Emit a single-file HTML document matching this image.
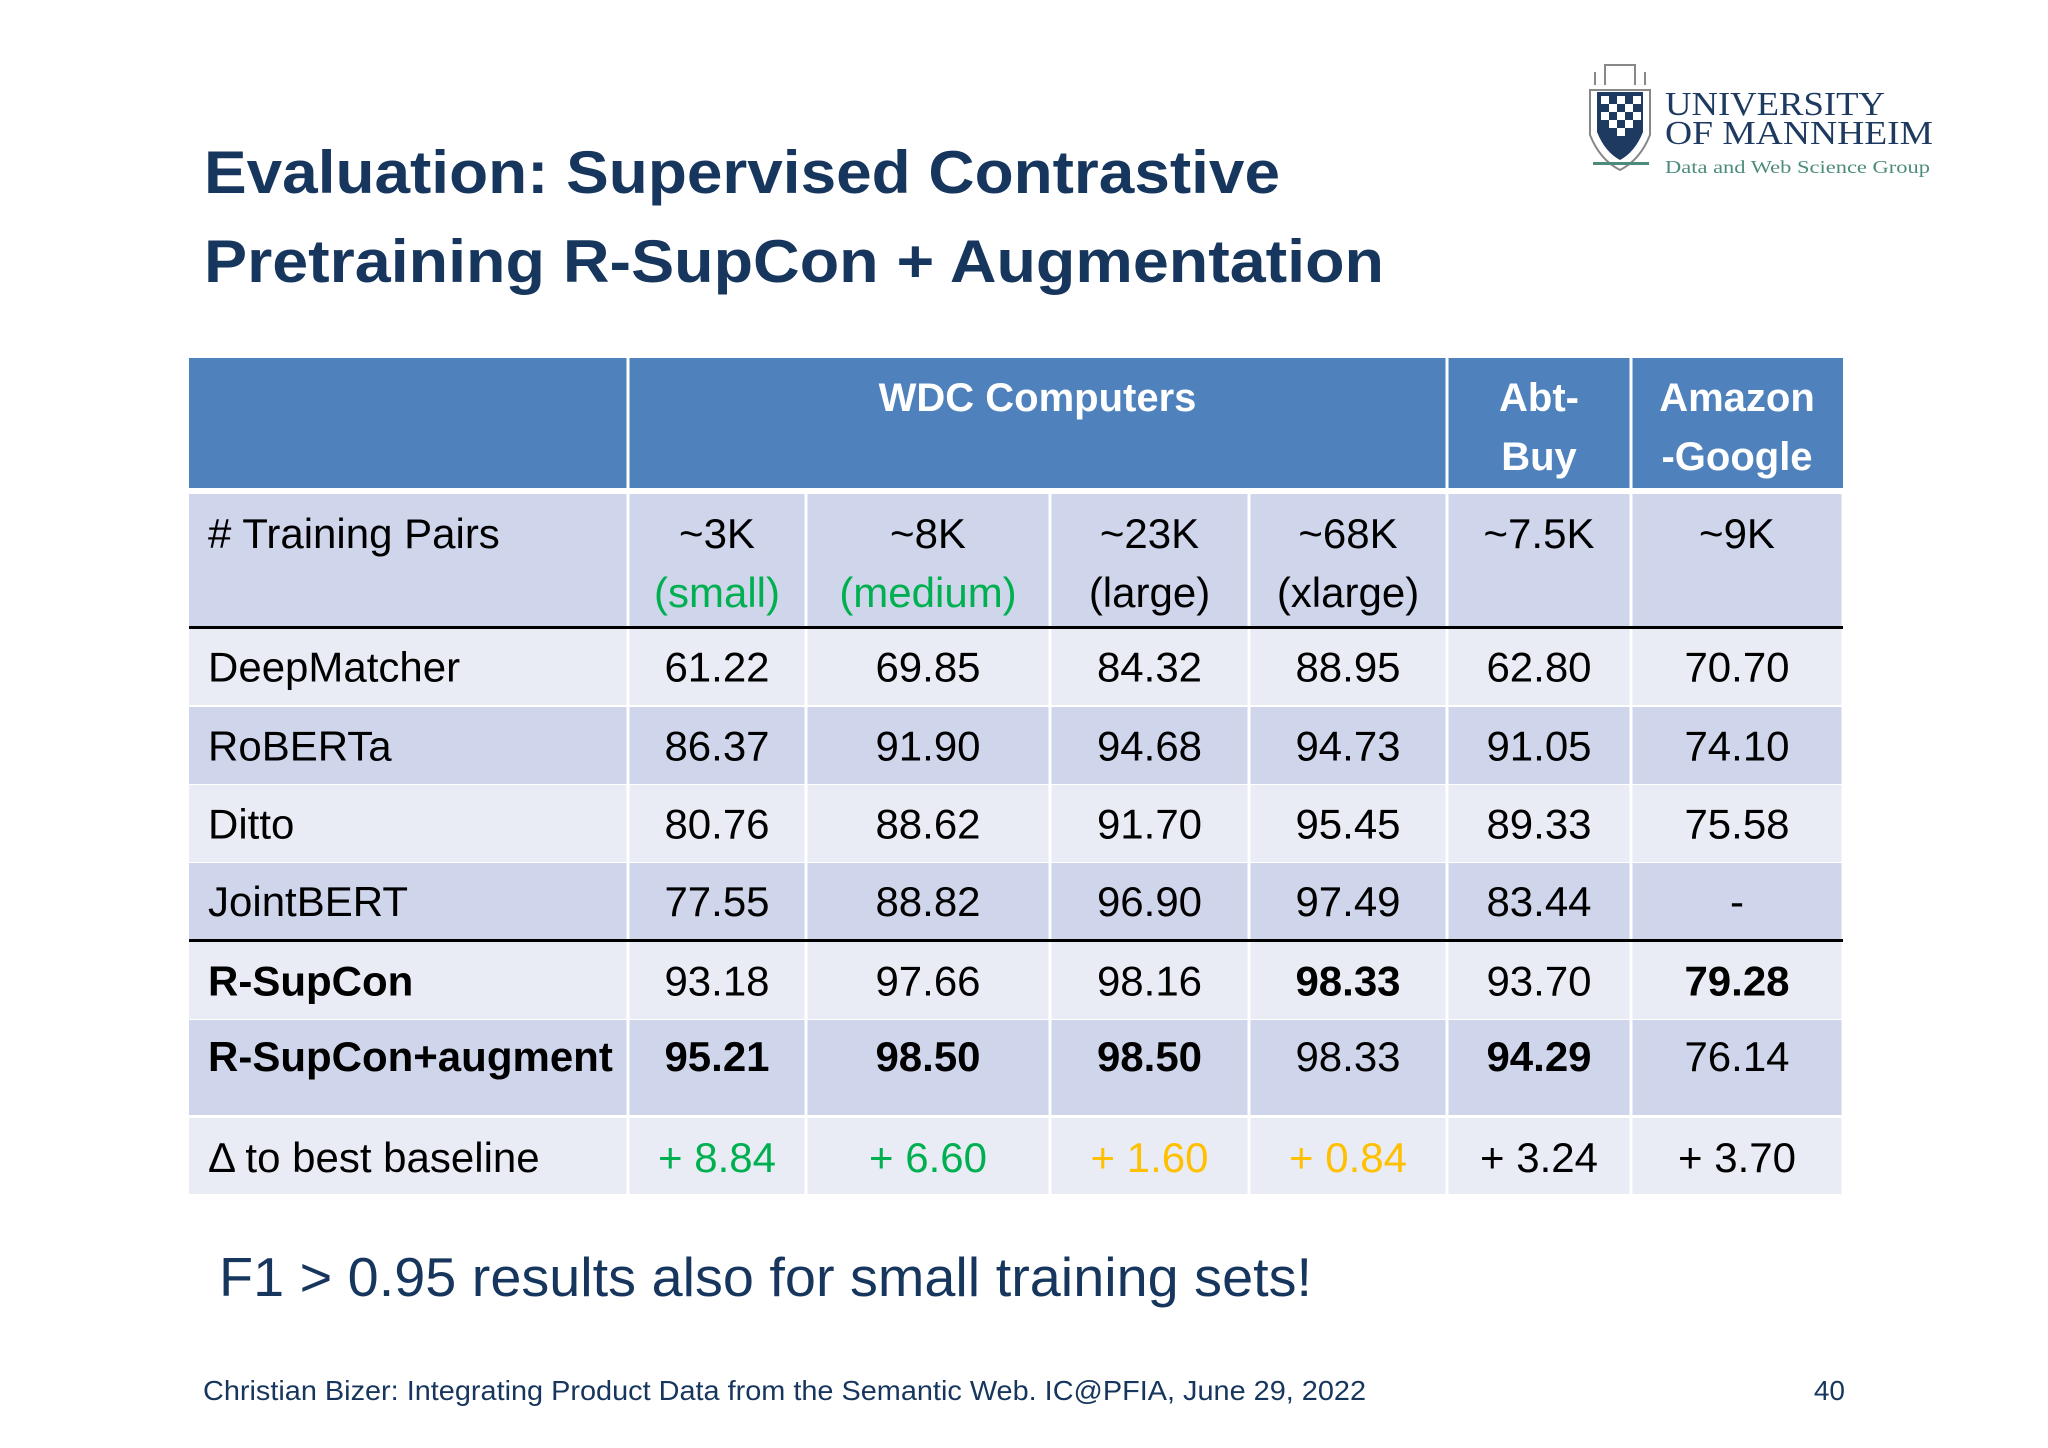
<!DOCTYPE html>
<html><head><meta charset="utf-8"><style>
html,body{margin:0;padding:0;background:#fff;}
svg{display:block;font-family:"Liberation Sans",Arial,sans-serif;}
</style></head><body>
<svg id="s" width="2048" height="1448" viewBox="0 0 2048 1448" xmlns="http://www.w3.org/2000/svg">
<rect width="2048" height="1448" fill="#ffffff"/>
<g fill="#17365d" font-weight="bold" font-size="60">
<text x="204" y="193" textLength="1076" lengthAdjust="spacingAndGlyphs">Evaluation: Supervised Contrastive</text>
<text x="204" y="282" textLength="1180" lengthAdjust="spacingAndGlyphs">Pretraining R-SupCon + Augmentation</text>
</g>
<g>
<g>
<path d="M1590 90 L1650 90 L1650 135 Q1640 160 1620 170 Q1600 160 1590 135 Z" fill="none" stroke="#888" stroke-width="2"/>
<path d="M1597 92 L1643 92 L1643 132 Q1635 152 1620 160 Q1605 152 1597 132 Z" fill="#1f3a60"/>
<g fill="#fff">
<rect x="1601" y="96" width="8" height="8"/><rect x="1617" y="96" width="8" height="8"/><rect x="1633" y="96" width="8" height="8"/>
<rect x="1609" y="104" width="8" height="8"/><rect x="1625" y="104" width="8" height="8"/>
<rect x="1601" y="112" width="8" height="8"/><rect x="1617" y="112" width="8" height="8"/><rect x="1633" y="112" width="8" height="8"/>
<rect x="1609" y="120" width="8" height="8"/><rect x="1625" y="120" width="8" height="8"/>
<rect x="1617" y="128" width="8" height="8"/>
</g>
<path d="M1595 85 L1595 72 M1605 85 L1605 65 L1635 65 L1635 85 M1645 85 L1645 72" stroke="#888" stroke-width="2" fill="none"/>
</g>
<text x="1665" y="115" font-family="Liberation Serif,serif" font-size="34" fill="#1f3a60" textLength="220" lengthAdjust="spacingAndGlyphs">UNIVERSITY</text>
<text x="1665" y="144" font-family="Liberation Serif,serif" font-size="34" fill="#1f3a60" textLength="268" lengthAdjust="spacingAndGlyphs">OF MANNHEIM</text>
<rect x="1593" y="162" width="56" height="3" fill="#4d8c7c"/>
<text x="1665" y="173" font-family="Liberation Serif,serif" font-size="18" fill="#4d8c7c" textLength="265" lengthAdjust="spacingAndGlyphs">Data and Web Science Group</text>
</g>
<g id="tbl"></g>
<text x="219" y="1296" font-size="55" fill="#17365d" textLength="1093" lengthAdjust="spacingAndGlyphs">F1 &gt; 0.95 results also for small training sets!</text>
<text x="203" y="1400" font-size="28" fill="#17365d" textLength="1163" lengthAdjust="spacingAndGlyphs">Christian Bizer: Integrating Product Data from the Semantic Web. IC@PFIA, June 29, 2022</text>
<text x="1845" y="1400" font-size="28" fill="#17365d" text-anchor="end">40</text>
</svg>
<script>
const methods=["DeepMatcher","RoBERTa","Ditto","JointBERT","R-SupCon","R-SupCon+augment"];
const colSmall=["61.22","86.37","80.76","77.55","93.18","95.21"];
const colMedium=["69.85","91.90","88.62","88.82","97.66","98.50"];
const colLarge=["84.32","94.68","91.70","96.90","98.16","98.50"];
const colXlarge=["88.95","94.73","95.45","97.49","98.33","98.33"];
const colAbtBuy=["62.80","91.05","89.33","83.44","93.70","94.29"];
const colAmazon=["70.70","74.10","75.58","-","79.28","76.14"];
const deltas=["+ 8.84","+ 6.60","+ 1.60","+ 0.84","+ 3.24","+ 3.70"];
const bolds=[[],[],[],[],[3,5],[0,1,2,4]];
const NS="http://www.w3.org/2000/svg";
const g=document.getElementById('tbl');
const xs=[189,628,806,1050,1249,1447,1631,1843];
function rect(x,y,w,h,f,name){const r=document.createElementNS(NS,'rect');r.setAttribute('x',x);r.setAttribute('y',y);r.setAttribute('width',w);r.setAttribute('height',h);r.setAttribute('fill',f);


g.appendChild(r);return r;}
function txt(s,x,y,opt,name){const t=document.createElementNS(NS,'text');t.textContent=s;t.setAttribute('x',x);t.setAttribute('y',y);t.setAttribute('font-size',opt.size||42);t.setAttribute('fill',opt.fill||'#000');if(opt.bold)t.setAttribute('font-weight','bold');t.setAttribute('text-anchor',opt.anchor||'middle');


g.appendChild(t);return t;}
// header
const gap=3;
rect(189,358,1654,130,'#4f81bd','header-row');
[628,1447,1631].forEach(x=>rect(x-1.5,358,3,130,'#fff','header-divider'));
txt("WDC Computers",(628+1447)/2,411,{fill:'#fff',bold:1,size:40},'header-wdc-computers');
txt("Abt-",(1447+1631)/2,411,{fill:'#fff',bold:1,size:40},'header-abt-buy');
txt("Buy",(1447+1631)/2,470,{fill:'#fff',bold:1,size:40},'header-abt-buy');
txt("Amazon",(1631+1843)/2,411,{fill:'#fff',bold:1,size:40},'header-amazon-google');
txt("-Google",(1631+1843)/2,470,{fill:'#fff',bold:1,size:40},'header-amazon-google');
const rowsY=[[494,626],[628,705],[707,784],[785,862],[863,939],[942,1019],[1020,1115],[1118,1194]];
const fills=['#cfd5ea','#e9ebf5','#cfd5ea','#e9ebf5','#cfd5ea','#e9ebf5','#cfd5ea','#e9ebf5'];
rowsY.forEach((r,i)=>{for(let c=0;c<7;c++){rect(xs[c]+(c?1.5:0),r[0],xs[c+1]-xs[c]-(c?3:1.5),r[1]-r[0],fills[i],'table-cell');}});
// training pairs row
const sizes=["~3K","~8K","~23K","~68K","~7.5K","~9K"];
const sub=["(small)","(medium)","(large)","(xlarge)","",""];
const subCol=['#00b050','#00b050','#000','#000'];
txt("# Training Pairs",208,548,{anchor:'start'},'training-pairs-label');
sizes.forEach((s,c)=>{const cx=(xs[c+1]+xs[c+2])/2;txt(s,cx,548,{},'training-size');if(sub[c])txt(sub[c],cx,607,{fill:subCol[c]},'size-label');});
rect(189,626,1654,3,'#000','thick-rule');
rect(189,939,1654,3,'#000','thick-rule');
const cols=[colSmall,colMedium,colLarge,colXlarge,colAbtBuy,colAmazon];
methods.forEach((m,i)=>{const r=rowsY[i+1];const by=i==5?r[0]+51:(r[0]+r[1])/2+15;
txt(m,208,by,{anchor:'start',bold:i>=4},'method-label');
cols.forEach((col,c)=>{txt(col[i],(xs[c+1]+xs[c+2])/2,by,{bold:bolds[i].includes(c)},'score-cell');});});
const dCol=['#00b050','#00b050','#ffc000','#ffc000','#000','#000'];
txt("Δ to best baseline",208,1172,{anchor:'start'},'delta-label');
deltas.forEach((d,c)=>txt(d,(xs[c+1]+xs[c+2])/2,1172,{fill:dCol[c]},'delta-cell'));
</script>
</body></html>
